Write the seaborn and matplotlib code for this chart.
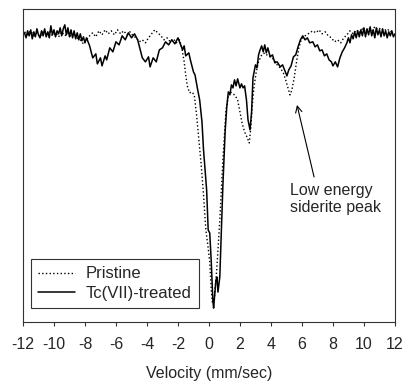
import numpy as np
import pandas as pd
import matplotlib
matplotlib.use('Agg')
import matplotlib.pyplot as plt
import seaborn as sns

# Mossbauer spectra (velocity in mm/s, counts in arbitrary units)
vel_treated = [-11.9, -11.8, -11.7, -11.6, -11.5, -11.4, -11.3, -11.2, -11.1, -11.0,
               -10.9, -10.8, -10.7, -10.6, -10.5, -10.4, -10.3, -10.2, -10.1, -10.0,
               -9.9, -9.8, -9.7, -9.6, -9.5, -9.4, -9.3, -9.2, -9.1, -9.0,
               -8.9, -8.8, -8.7, -8.6, -8.5, -8.4, -8.3, -8.2, -8.1, -8.0,
               -7.9, -7.7, -7.5, -7.3, -7.2, -7.0, -6.9, -6.7, -6.6, -6.4,
               -6.2, -6.0, -5.8, -5.6, -5.4, -5.2, -5.0, -4.8, -4.6, -4.4,
               -4.3, -4.1, -3.9, -3.8, -3.6, -3.4, -3.2, -3.0, -2.8, -2.6,
               -2.4, -2.2, -2.0, -1.9, -1.7, -1.6, -1.5, -1.3, -1.2, -1.0,
               -0.9, -0.75, -0.6, -0.45, -0.35, -0.15, -0.05, 0.05, 0.15, 0.25,
               0.3, 0.45, 0.52, 0.58, 0.7, 0.9, 1.05, 1.15, 1.25, 1.35,
               1.45, 1.55, 1.65, 1.75, 1.85, 2.0, 2.1, 2.2, 2.3, 2.42,
               2.52, 2.65, 2.75, 2.84, 3.0, 3.1, 3.2, 3.3, 3.4, 3.5,
               3.6, 3.7, 3.8, 3.95, 4.1, 4.25, 4.4, 4.6, 4.75, 4.9,
               5.03, 5.15, 5.3, 5.45, 5.6, 5.75, 5.9, 6.05, 6.2, 6.35,
               6.5, 6.7, 6.85, 7.0, 7.15, 7.3, 7.45, 7.6, 7.75, 7.9,
               8.0, 8.15, 8.3, 8.45, 8.6, 8.75, 8.9,
               9.0, 9.1, 9.2, 9.3, 9.4, 9.5, 9.6, 9.7, 9.8, 9.9,
               10.0, 10.1, 10.2, 10.3, 10.4, 10.5, 10.6, 10.7, 10.8, 10.9,
               11.0, 11.1, 11.2, 11.3, 11.4, 11.5, 11.6, 11.7, 11.8, 11.9, 12.0]
cnt_treated = [289, 284, 291, 286, 292, 283, 290, 285, 293, 287,
               284, 291, 286, 293, 285, 290, 284, 296, 287, 292,
               285, 291, 288, 294, 286, 293, 297, 287, 294, 285,
               292, 284, 291, 283, 289, 282, 288, 281, 285, 279,
               284, 276, 264, 268, 258, 264, 256, 266, 262, 274,
               270, 280, 277, 286, 282, 289, 284, 288, 282, 270,
               264, 260, 265, 255, 264, 260, 272, 274, 280, 277,
               282, 278, 284, 280, 272, 276, 266, 269, 262, 250,
               247, 234, 222, 200, 172, 132, 92, 89, 60, 22,
               14, 42, 45, 30, 45, 137, 192, 215, 230, 227,
               237, 234, 242, 236, 243, 234, 238, 234, 236, 222,
               202, 192, 210, 244, 257, 254, 267, 272, 276, 270,
               277, 269, 274, 265, 267, 259, 260, 255, 257, 251,
               246, 252, 256, 265, 267, 275, 282, 286, 282, 284,
               279, 280, 275, 277, 271, 272, 266, 268, 262, 260,
               256, 260, 255, 264, 270, 274, 279,
               284, 279, 287, 283, 290, 284, 291, 285, 292, 286,
               294, 285, 293, 287, 295, 286, 292, 284, 294, 287,
               292, 285, 293, 286, 291, 284, 290, 286, 291, 285, 288]

vel_pristine = [-11.9, -11.7, -11.5, -11.3, -11.1, -10.9, -10.7, -10.5, -10.3, -10.1,
                -9.9, -9.7, -9.5, -9.3, -9.1, -8.9, -8.7, -8.5, -8.3, -8.1,
                -7.9, -7.7, -7.5, -7.3, -7.1, -6.9, -6.7, -6.5, -6.3, -6.1,
                -5.9, -5.7, -5.5, -5.3, -5.1, -4.9, -4.7, -4.5, -4.3, -4.1,
                -3.9, -3.7, -3.5, -3.3, -3.1, -2.9, -2.7, -2.5, -2.3, -2.1,
                -1.9, -1.75, -1.6, -1.5, -1.4, -1.25, -1.1, -0.95, -0.8, -0.65,
                -0.5, -0.35, -0.2, -0.05, 0.05, 0.15, 0.22, 0.35, 0.5, 0.7,
                0.9, 1.1, 1.3, 1.5, 1.7, 1.85, 2.0, 2.15, 2.3, 2.45,
                2.6, 2.7, 2.8, 2.9, 3.05, 3.2, 3.4, 3.6, 3.8, 4.0,
                4.2, 4.4, 4.6, 4.8, 4.95, 5.1, 5.23, 5.35, 5.5, 5.65,
                5.8, 5.95, 6.1, 6.3, 6.5, 6.7, 6.9, 7.1, 7.3, 7.5,
                7.7, 7.9, 8.1, 8.3, 8.5, 8.7, 8.9, 9.1, 9.3, 9.5,
                9.7, 9.9, 10.1, 10.3, 10.5, 10.7, 10.9, 11.1, 11.3, 11.5,
                11.7, 11.9]
cnt_pristine = [290, 287, 291, 286, 289, 285, 290, 287, 291, 286,
                289, 285, 290, 286, 289, 285, 288, 284, 282, 278,
                282, 286, 289, 285, 291, 287, 292, 288, 291, 287,
                292, 288, 291, 287, 290, 286, 284, 280, 282, 279,
                284, 288, 292, 289, 286, 282, 284, 280, 283, 279,
                282, 274, 260, 247, 236, 229, 230, 227, 207, 182,
                157, 127, 92, 74, 60, 32, 20, 24, 52, 102,
                162, 212, 230, 229, 226, 222, 210, 198, 190, 185,
                179, 194, 217, 234, 250, 260, 267, 269, 266, 265,
                262, 257, 254, 249, 242, 234, 227, 232, 244, 260,
                274, 282, 285, 287, 289, 291, 289, 292, 288, 290,
                286, 284, 280, 282, 279, 284, 287, 291, 288, 292,
                289, 293, 290, 294, 291, 295, 292, 294, 291, 293,
                290, 292]

xticks = list(range(-12, 13, 2))
xtick_labels = ['-12', '-10', '-8', '-6', '-4', '-2', '0', '2', '4', '6', '8', '10', '12']

sns.set_style('ticks')
plt.rcParams['font.family'] = ['Liberation Sans', 'DejaVu Sans']
fs = 11.5

df_p = pd.DataFrame({'vel': vel_pristine, 'cnt': cnt_pristine})
df_t = pd.DataFrame({'vel': vel_treated, 'cnt': cnt_treated})

fig = plt.figure(figsize=(4.03, 3.83), dpi=100)
ax = fig.add_axes([0.057, 0.159, 0.923, 0.818])

sns.lineplot(data=df_p, x='vel', y='cnt', ax=ax, color='black', linestyle=':',
             linewidth=1.0, estimator=None, label='Pristine')
sns.lineplot(data=df_t, x='vel', y='cnt', ax=ax, color='black', linestyle='-',
             linewidth=1.1, estimator=None, label='Tc(VII)-treated')

ax.set_xlim(-12, 12)
ax.set_ylim(0, 313)
ax.set_yticks([])
ax.set_ylabel('')
ax.set_xticks(xticks)
ax.set_xticklabels(xtick_labels, fontsize=fs)
ax.tick_params(axis='x', direction='out', length=3, width=0.8, color='#333333', pad=7.5)
ax.set_xlabel('Velocity (mm/sec)', fontsize=fs, labelpad=10)
for s in ax.spines.values():
    s.set_visible(True)
    s.set_color('#333333')
    s.set_linewidth(0.8)

ax.annotate('Low energy\nsiderite peak', xy=(5.68, 217), xytext=(5.23, 139),
            ha='left', va='top', fontsize=fs,
            arrowprops=dict(arrowstyle='->', color='black', lw=0.8,
                            relpos=(0.28, 1.0), shrinkA=2, shrinkB=0))

leg = ax.legend(loc='lower left', bbox_to_anchor=(0.0215, 0.045), fontsize=12,
                fancybox=False, framealpha=1, edgecolor='#333333',
                handlelength=2.2, handletextpad=0.6, labelspacing=0.25,
                borderpad=0.45, borderaxespad=0)
leg.get_frame().set_linewidth(0.8)

plt.savefig('out.png', dpi=100)
